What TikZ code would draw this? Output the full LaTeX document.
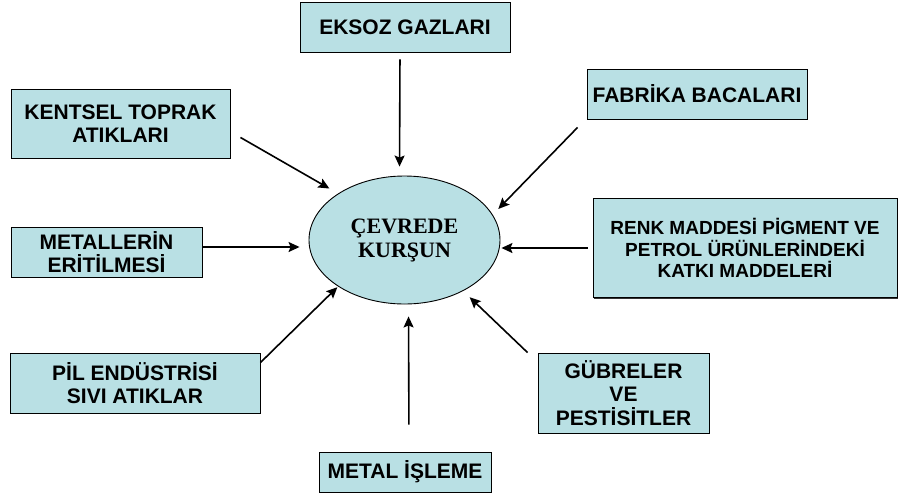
\documentclass[tikz,border=0pt]{standalone}
\usepackage{fontspec}
\setmainfont{Liberation Sans}
\newfontfamily\cevrefont{Liberation Serif}[BoldFont={Liberation Serif Bold}]
\usetikzlibrary{shapes.geometric,arrows.meta,shadows}
\definecolor{boxblue}{RGB}{185,224,228}
\tikzstyle{srcbox} = [draw=black, fill=boxblue, line width=0.9pt,
    rectangle, inner sep=0pt, align=center,
    font=\fontsize{21}{23.5}\selectfont\bfseries,
    drop shadow={shadow xshift=1.2pt, shadow yshift=-1.2pt, fill=black!80, opacity=1}]
\tikzstyle{centre} = [draw=black, fill=boxblue, line width=0.9pt,
    ellipse, inner sep=0pt, minimum width=191pt, minimum height=128pt,
    align=center, font=\cevrefont\bfseries\fontsize{22}{24}\selectfont]
\tikzstyle{flow} = [line width=1.6pt, -{Stealth[length=11pt,width=10pt,inset=2pt]}]

\begin{document}
\begin{tikzpicture}[x=1pt, y=-1pt]
\useasboundingbox (0,0) rectangle (898,496);
\node [centre] (cevre) at (404.5,240) {ÇEVREDE\\KURŞUN};
\node [srcbox, minimum width=210pt, minimum height=50pt] (eksoz) at (405,27) {EKSOZ GAZLARI};
\node [srcbox, minimum width=219pt, minimum height=69pt] (kentsel) at (120.5,123.5) {KENTSEL TOPRAK\\ATIKLARI};
\node [srcbox, minimum width=220pt, minimum height=50pt] (fabrika) at (697,94) {FABRİKA BACALARI};
\node [srcbox, minimum width=191pt, minimum height=50pt] (metallerin) at (106.5,252) {METALLERİN\\ERİTİLMESİ};
\node [srcbox, minimum width=304pt, minimum height=99pt, font=\fontsize{19}{21.7}\selectfont\bfseries] (renk) at (745,248) {RENK MADDESİ PİGMENT VE\\PETROL ÜRÜNLERİNDEKİ\\KATKI MADDELERİ};
\node [srcbox, minimum width=250pt, minimum height=60pt] (pil) at (135,383) {PİL ENDÜSTRİSİ\\SIVI ATIKLAR};
\node [srcbox, minimum width=171pt, minimum height=80pt] (gubre) at (623.5,393) {GÜBRELER\\VE\\PESTİSİTLER};
\node [srcbox, minimum width=172pt, minimum height=40pt] (isleme) at (405,472) {METAL İŞLEME};

\draw [flow, shorten <=7pt, shorten >=9pt] ([xshift=-5pt]eksoz.south) -- ([xshift=-5pt]cevre.north);
\draw [flow, shorten >=10pt] ([shift={(10pt,21pt)}]kentsel.south east) -- (cevre.145);
\draw [flow, shorten >=8pt] ([shift={(-9pt,-8pt)}]fabrika.south west) -- (cevre.16);
\draw [flow, shorten >=9pt] ([yshift=5pt]metallerin.east) -- ([yshift=-7pt]cevre.west);
\draw [flow, shorten <=5pt, shorten >=1pt] (renk.west) -- ([yshift=-8pt]cevre.east);
\draw [flow, shorten >=1pt] ([yshift=-10pt]pil.north east) -- (cevre.215);
\draw [flow, shorten >=9pt] ([xshift=-10pt]gubre.north west) -- (cevre.-41);
\draw [flow, shorten <=27pt, shorten >=12pt] ([xshift=4pt]isleme.north) -- ([xshift=4pt]cevre.south);
\end{tikzpicture}
\end{document}
